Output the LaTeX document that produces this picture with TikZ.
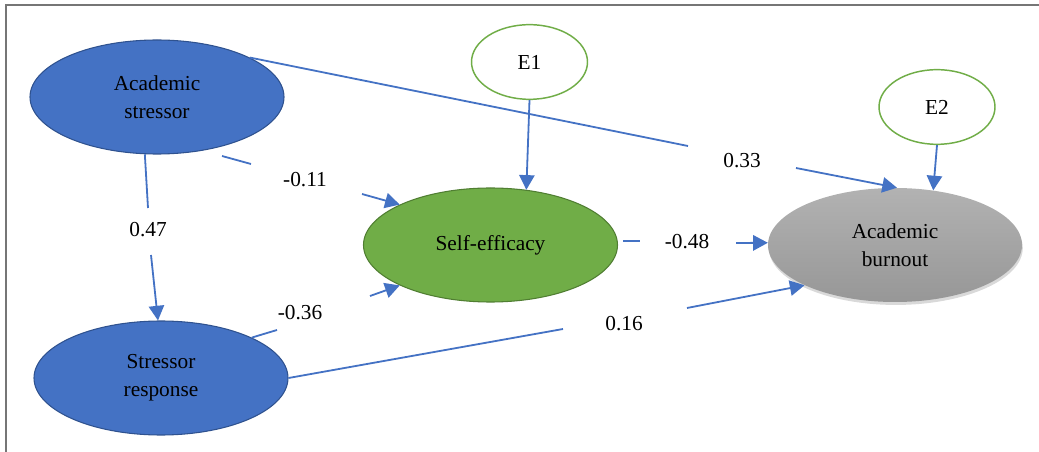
\documentclass[tikz,border=0pt]{standalone}
\usepackage{fontspec}
\setmainfont{Liberation Serif}
\usetikzlibrary{shapes.geometric,arrows.meta,shadows}
\definecolor{pblue}{HTML}{4472C4}
\definecolor{pblueD}{HTML}{2F528F}
\definecolor{pgreen}{HTML}{70AD47}
\definecolor{pgreenD}{HTML}{507E32}
\definecolor{frame}{HTML}{767676}
\definecolor{gtop}{HTML}{B2B2B2}
\definecolor{gbot}{HTML}{979797}
\tikzset{
  bigell/.style={ellipse, inner sep=0pt, minimum width=190.5pt, minimum height=85.5pt,
    align=center, font=\fontsize{16}{21}\selectfont},
  blueell/.style={bigell, fill=pblue, draw=pblueD, line width=0.8pt},
  greenell/.style={bigell, fill=pgreen, draw=pgreenD, line width=0.8pt},
  grayell/.style={bigell, top color=gtop, bottom color=gbot, draw=none,
    drop shadow={opacity=0.3, shadow xshift=0.6pt, shadow yshift=-2.2pt}},
  errell/.style={ellipse, inner sep=0pt, minimum width=87pt, minimum height=56pt,
    draw=pgreen, line width=1.1pt, fill=white, font=\fontsize{16}{19}\selectfont},
  coef/.style={inner sep=0pt, font=\fontsize{16}{19}\selectfont},
  conn/.style={draw=pblue, line width=1.35pt},
  arr/.style={conn, -{Triangle[length=11pt,width=11.5pt]}},
}
\begin{document}
\begin{tikzpicture}[x=0.75pt,y=-0.75pt]
\useasboundingbox (0,0) rectangle (1039,452);
\draw[frame, line width=1.5pt] (6,452) -- (6,5) -- (1039,5);

% nodes
\node[blueell] (as) at (157,97) {Academic\\stressor};
\node[blueell] (sr) at (161,378) {Stressor\\response};
\node[greenell] (se) at (490.5,245) {Self-efficacy};
\node[grayell] (ab) at (895,245) {Academic\\burnout};
\node[errell] (e1) at (529.5,62) {E1};
\node[errell] (e2) at (937,107) {E2};

% coefficient labels
\node[coef] (l33) at (742,161) {0.33};
\node[coef] (l11) at (305,180) {-0.11};
\node[coef] (l47) at (148,230) {0.47};
\node[coef] (l36) at (300,313) {-0.36};
\node[coef] (l16) at (624,324) {0.16};
\node[coef] (l48) at (687,242) {-0.48};

% gap coordinates
\coordinate (g33a) at (688,146); \coordinate (g33b) at (796,168);
\coordinate (s11) at (222,156);
\coordinate (g11a) at (251,164); \coordinate (g11b) at (362,194);
\coordinate (g47a) at (148,208); \coordinate (g47b) at (151,255);
\coordinate (g36a) at (277,330); \coordinate (g36b) at (370,296);
\coordinate (g16a) at (563,329); \coordinate (g16b) at (687,308);
\coordinate (s48) at (623,241);
\coordinate (g48a) at (640,241); \coordinate (g48b) at (736,243);

% connectors
\draw[conn] (as.23) -- (g33a);
\draw[arr] (g33b) -- (ab.88);
\draw[conn] (s11) -- (g11a);
\draw[arr] (g11b) -- (se.156);
\draw[conn] (as.258) -- (g47a);
\draw[arr] (g47b) -- (sr.93);
\draw[conn] (sr.24) -- (g36a);
\draw[arr] (g36b) -- (se.204);
\draw[conn] (sr.east) -- (g16a);
\draw[arr] (g16b) -- (ab.204);
\draw[conn] (s48) -- (g48a);
\draw[arr] (g48b) -- (ab.179);
\draw[arr] (e1.south) -- (se.57);
\draw[arr] (e2.south) -- (ab.55);
\end{tikzpicture}
\end{document}
